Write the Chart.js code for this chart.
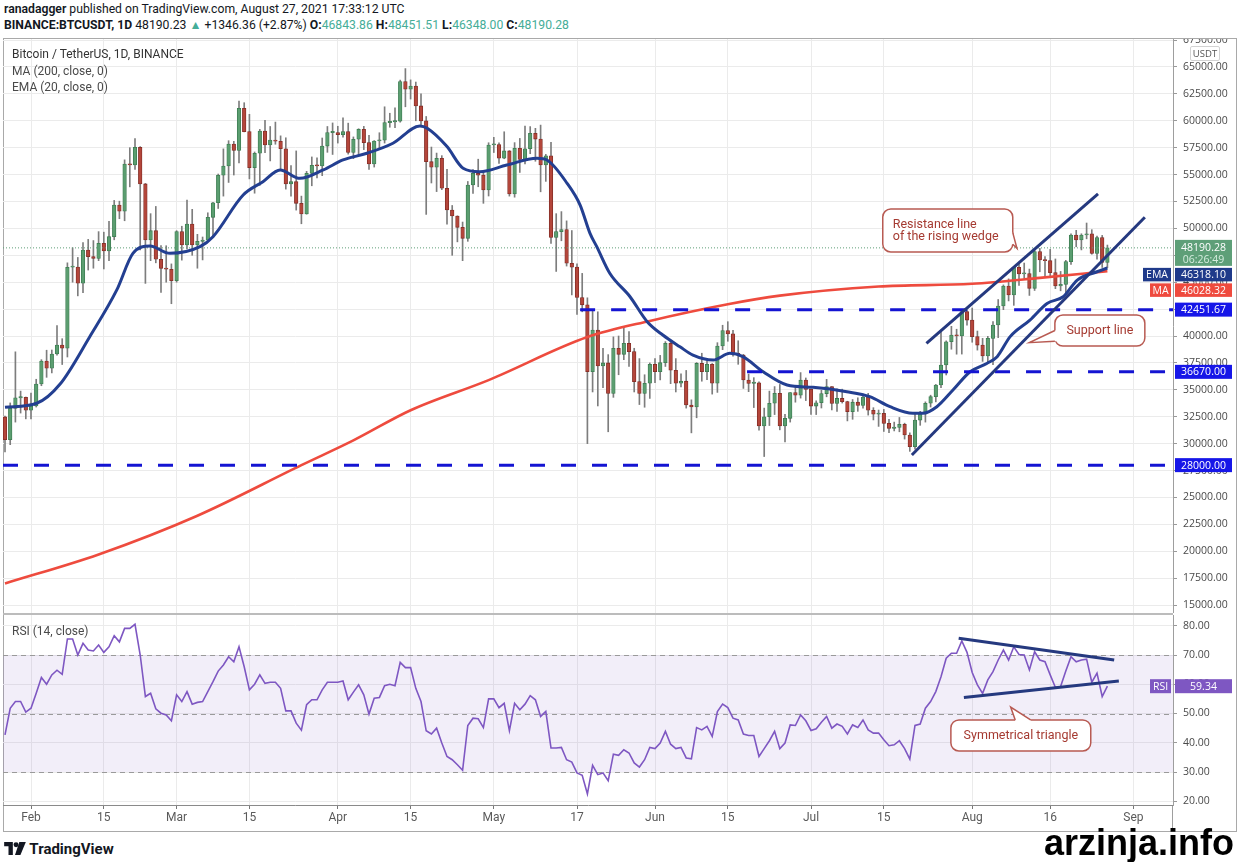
<!DOCTYPE html>
<html>
<head>
<meta charset="utf-8">
<title>BTCUSDT 1D</title>
<script src="https://cdn.jsdelivr.net/npm/chart.js@4.4.1/dist/chart.umd.min.js"></script>
<style>
  html, body { margin: 0; padding: 0; background: #fff; }
  body { position: relative; width: 1238px; height: 862px; overflow: hidden; font-family: Roboto, "Open Sans", sans-serif; color: #131722; }
  .abs { position: absolute; white-space: nowrap; }
  #frame { left: 3px; top: 38px; width: 1234px; height: 794px; border: 1px solid #a9a9a9; box-sizing: border-box; }
  #axisTail { left: 1172px; top: 805px; width: 1px; height: 26px; background: #9e9e9e; }
  #mainCanvas { position: absolute; left: 0; top: 39px; }
  #rsiCanvas { position: absolute; left: 0; top: 613px; }
  #sep { left: 3px; top: 613px; width: 1170px; height: 2px; background: #bcbcbc; }
  .hdr { left: 4px; font-size: 12.2px; line-height: 14px; }
  .up { color: #45ad98; }
  .legend { left: 12px; font-size: 12px; line-height: 14px; color: #4a4a4a; }
  #usdt { left: 1190px; top: 46px; width: 28px; height: 13px; border: 1px solid #d2d2d2; border-radius: 2px; font-size: 9.5px; line-height: 13px; text-align: center; color: #555; font-family: "Open Sans", sans-serif; }
  #tvlogo { left: 4px; top: 841px; font-size: 15px; font-weight: 700; line-height: 16px; color: #131722; }
  #mark { left: 1044px; top: 825px; font-family: "Liberation Sans", Arial, sans-serif; font-weight: 700; font-size: 36px; line-height: 36px; color: #000; }
</style>
</head>
<body>
<div id="frame" class="abs"></div>
<div id="axisTail" class="abs"></div>
<canvas id="mainCanvas" width="1238" height="574"></canvas>
<canvas id="rsiCanvas" width="1238" height="217"></canvas>
<div id="sep" class="abs"></div>

<div class="abs hdr" style="top:2px"><b style="font-weight:600">ranadagger</b> published on TradingView.com, August 27, 2021 17:33:12 UTC</div>
<div class="abs hdr" style="top:18px"><b>BINANCE:BTCUSDT, 1D</b> 48190.23 <span class="up">▲</span> +1346.36 (+2.87%) <b>O:</b><span class="up">46843.86</span> <b>H:</b><span class="up">48451.51</span> <b>L:</b><span class="up">46348.00</span> <b>C:</b><span class="up">48190.28</span></div>

<div class="abs legend" style="top:47px;color:#333">Bitcoin / TetherUS, 1D, BINANCE</div>
<div class="abs legend" style="top:64px">MA (200, close, 0)</div>
<div class="abs legend" style="top:80px">EMA (20, close, 0)</div>
<div class="abs legend" style="top:624px">RSI (14, close)</div>
<div id="usdt" class="abs">USDT</div>

<div id="tvlogo" class="abs"><svg width="22" height="13" viewBox="0 0 20 12" style="vertical-align:-1px"><path d="M0 0h8v12H4V4H0z" fill="#131722"/><circle cx="11" cy="2.5" r="2.3" fill="#131722"/><path d="M14 0h6l-5 12h-5z" fill="#131722"/></svg> TradingView</div>
<div id="mark" class="abs">arzinja.info</div>

<script>
// daily candles BINANCE:BTCUSDT, first bar = 27 Jan 2021, last = 27 Aug 2021
const opens = [
  32480,30370,33280,34250,34300,33100,33500,35540,37680,37000,
  38330,39160,38870,46390,46400,44900,47990,47370,47200,48620,
  47900,49230,52170,51600,55980,55900,57540,54130,48920,49790,
  47130,46290,46200,45140,49700,48460,50410,48460,48800,48900,
  51030,52380,54940,55800,57840,57250,61160,58990,55640,56980,
  59050,57750,58200,58100,57400,54130,54340,52330,51340,55120,
  55860,55800,57650,58900,58900,58700,59000,57050,58280,59210,
  57970,55980,58120,58200,59830,59900,59960,63640,62930,63220,
  61380,59990,56200,55680,56520,53730,51710,51150,50100,49080,
  54030,55120,54950,53570,57750,57800,56520,57200,53200,57440,
  56400,57400,58840,58300,55890,56750,49150,49700,49900,46760,
  46400,43580,42900,36680,40560,37210,37500,34670,38850,38300,
  39320,38550,35760,34670,35610,37370,36680,37520,39320,36820,
  35610,35800,33590,33400,37450,36680,37370,35610,39070,40500,
  40200,38390,38230,35910,35600,35650,31640,32500,33750,34670,
  31640,32350,34740,34500,35910,35040,33490,33800,34650,35290,
  33730,34200,33900,32970,33850,33550,34330,33100,32730,32820,
  31880,31420,31500,31800,30800,29710,32190,32750,33750,34360,
  35450,37310,39470,40090,40000,42260,41480,39940,39160,38140,
  39780,41020,42790,44650,43810,46390,45760,45800,44430,47840,
  47060,47000,45890,44650,44800,46910,49390,48920,49390,49500,
  47680,49150,46843.86
];
const highs = [
  32560,33780,38530,34880,34330,34700,35980,37800,38680,38700,
  40980,39750,46800,48200,47300,48680,48980,48870,49700,49650,
  50650,52600,52530,56370,57500,58350,57600,54180,51370,52040,
  48400,48390,46700,49790,50200,52640,51770,49450,49200,51450,
  52420,55050,57390,58150,58090,61840,61680,60600,57100,59200,
  60040,59470,59880,58600,58420,55830,57200,53000,55300,56640,
  56560,58400,59470,59800,59490,60270,59780,58500,59260,59480,
  58650,58160,58890,61300,60700,61200,63780,64850,63800,63600,
  62500,60400,57560,57000,56760,55500,52130,51170,50590,54360,
  55460,56430,55200,57960,58460,57950,58980,57230,57970,58360,
  59500,59460,59300,59600,56880,58000,51370,51560,50700,49800,
  46700,45820,43550,42460,42250,38850,38270,39920,40000,40840,
  40400,38860,37900,36400,37500,37900,38200,39480,39480,37900,
  36480,36800,34070,37530,38400,37690,37440,39380,41000,41330,
  40530,39560,38300,36460,36130,35750,33300,34880,35300,35500,
  32730,34750,35300,36600,36100,35040,33980,34950,35970,35300,
  35100,35060,33940,34100,34260,34600,34670,33340,33120,33180,
  32250,32000,32430,31900,31000,32860,33000,33880,34500,35500,
  40500,39550,40900,40630,42320,42400,42600,40460,39780,39970,
  41350,43390,44750,45310,46460,46700,46780,46220,48150,48140,
  47390,48050,47160,46000,47030,49500,49820,49500,50500,49880,
  49290,49350,48451.51
];
const lows = [
  29240,29900,32000,32840,32300,32300,33400,35380,36160,36570,
  38220,37350,38050,45000,43730,44020,46130,46300,47000,46230,
  47000,48940,50900,50710,53860,55480,48000,44890,47000,46800,
  44060,45000,43000,45000,47050,48100,47500,46300,47070,48870,
  49270,51850,53000,54270,54960,56080,58970,54600,53270,54000,
  57030,56270,57820,55450,53650,53000,51700,50430,51320,53960,
  54700,54900,57070,56870,57930,58470,56900,56480,56800,57320,
  55470,55700,57370,57930,59400,59370,59870,61300,62020,60000,
  59580,51300,54220,53420,53600,50400,47500,48750,47000,48800,
  53250,53870,52330,53010,57050,56040,56470,53000,52900,55200,
  56000,56940,56240,53400,54370,48600,46000,48850,46500,43820,
  42000,42250,30000,34800,33500,35200,31100,34300,36400,37800,
  37170,34800,33630,33380,34200,35670,35920,37170,35570,34800,
  35260,33300,31000,32400,35800,35950,34600,34760,38730,39510,
  38120,37370,35130,34830,33350,31250,28800,31680,32700,31280,
  30150,32000,33850,34230,34000,32710,32700,33310,34350,33130,
  33000,33770,32110,32260,33000,33300,32650,32200,31600,31130,
  31020,31180,31100,30420,29280,29480,31700,32000,33400,33880,
  35200,36380,38770,38310,38320,41000,39420,38690,37640,37510,
  37330,39850,42450,43260,42850,44690,45350,43770,44230,45970,
  45520,45600,44400,44200,43930,46650,48290,48000,49030,47600,
  47150,46370,46348
];
const closes = [
  30370,33280,34250,34300,33100,33500,35540,37680,37000,38330,
  39160,38870,46390,46400,44900,47990,47370,47200,48620,47900,
  49230,52170,51600,55980,55900,57540,54130,48920,49790,47130,
  46290,46200,45140,49700,48460,50410,48460,48800,48900,51030,
  52380,54940,55800,57840,57250,61160,58990,55640,56980,59050,
  57750,58200,58100,57400,54130,54340,52330,51340,55120,55860,
  55800,57650,58900,58900,58700,59000,57050,58280,59210,57970,
  55980,58120,58200,59830,59900,59960,63640,62930,63220,61380,
  59990,56200,55680,56520,53730,51710,51150,50100,49080,54030,
  55120,54950,53570,57750,57800,56520,57200,53200,57440,56400,
  57400,58840,58300,55890,56750,49150,49700,49900,46760,46400,
  43580,42900,36680,40560,37210,37500,34670,38850,38300,39320,
  38550,35760,34670,35610,37370,36680,37520,39320,36820,35610,
  35800,33590,33400,37450,36680,37370,35610,39070,40500,40200,
  38390,38230,35910,35600,35650,31640,32500,33750,34670,31640,
  32350,34740,34500,35910,35040,33490,33800,34650,35290,33730,
  34200,33900,32970,33850,33550,34330,33100,32730,32820,31880,
  31420,31500,31800,30800,29710,32190,32750,33750,34360,35450,
  37310,39470,40090,40000,42260,41480,39940,39160,38140,39780,
  41020,42790,44650,43810,46390,45760,45800,44430,47840,47060,
  47000,45890,44650,44800,46910,49390,48920,49390,49500,47680,
  49150,46840,48190.28
];

// RSI (14) per day
const rsiValues = [
  42.7,51.8,54.1,54.1,50.5,51.8,56.9,62.3,60.0,63.2,
  64.8,63.4,75.5,75.5,70.0,74.0,71.7,71.4,73.4,70.9,
  72.8,76.6,74.5,79.1,79.1,80.5,70.0,55.8,56.9,51.6,
  50.1,49.5,47.5,56.4,54.1,57.5,53.2,53.8,54.1,57.5,
  60.9,64.5,66.6,69.4,67.7,72.8,66.0,58.1,60.0,63.2,
  60.3,60.7,60.7,58.6,50.9,50.9,46.7,44.3,53.0,54.7,
  54.7,58.1,60.7,60.7,60.7,61.1,54.7,57.3,59.8,56.4,
  49.8,55.2,55.5,59.5,60.0,59.5,67.5,65.7,65.7,58.6,
  54.1,44.1,43.0,45.0,39.9,35.3,34.2,32.5,30.6,45.9,
  48.4,48.2,45.2,55.0,55.0,52.0,53.5,44.1,53.5,51.3,
  53.2,56.1,54.7,49.0,50.7,38.2,38.2,38.4,34.2,33.4,
  29.7,28.9,22.5,32.3,29.1,29.7,27.0,36.1,35.7,37.6,
  36.5,33.1,31.7,34.2,38.4,38.0,39.9,43.9,39.5,38.0,
  38.4,34.8,34.5,45.2,44.4,45.6,42.2,50.7,53.2,52.0,
  48.4,47.8,43.0,42.5,42.5,35.3,38.0,40.7,43.9,38.0,
  39.9,46.1,45.9,49.5,47.5,44.2,44.8,47.0,49.0,45.0,
  46.4,45.6,43.0,46.1,45.2,47.8,44.4,43.3,43.3,41.0,
  39.0,39.3,40.7,38.0,34.4,45.9,46.4,51.8,54.1,57.5,
  62.6,68.9,70.6,70.6,74.8,70.9,64.0,59.8,56.9,61.5,
  64.3,68.3,71.7,68.3,72.8,70.2,70.0,64.9,71.1,68.3,
  67.7,63.2,58.9,59.2,64.5,69.4,67.7,68.3,68.6,60.7,
  63.8,55.8,59.34
];

// EMA 20 and MA 200 (day index, price)
const emaDays = [0,6.1,10.6,16.3,21.5,24.6,27.9,31.7,37.5,40,45.8,49.6,52.9,56.7,61.2,65,69.6,74.6,79.8,81.2,85,88.1,91.3,96.5,102.3,104.2,108.1,110.6,112.5,113.8,116.3,120.2,123.5,126.5,129.8,132.3,136.2,139.4,141.9,145.8,150.4,155.4,161.9,166.3,170.2,174.6,176.5,179.2,182.3,185.6,188.8,190.8,193.3,197.1,200.4,203.5,206.2,210,212];
const emaValues = [33370,33750,35540,39940,44280,47680,48360,47680,48300,49230,53100,54340,55430,54650,55430,56360,56980,57910,59520,59300,57600,55590,55270,55890,56520,56360,54190,52170,49540,48300,45830,43650,41330,40090,39000,38230,37770,38390,38080,36680,35450,35230,34820,34360,33430,32820,32820,33430,34980,36680,37450,38080,39940,41480,43030,43650,45200,45970,46318.10];
const maDays = [0,18,37,57,67,78,93,112,124,139,149,168,186,199,212];
const maValues = [17000,19700,23300,28000,30300,33100,35900,39900,41400,42950,43750,44600,44850,45400,46028.32];

// horizontal levels and drawn trend lines
const levels = [28000, 36670, 42451.67];
const levelStarts = [-0.385, 142.7, 110.6];
const wedgeDays = [177.2, 210.2];
const wedgePrices = [39320, 53200];
const supportDays = [174.4, 219.2];
const supportPrices = [28940, 51030];
const triTopDays = [183.4, 213.3];
const triTopValues = [75.7, 68.3];
const triLowDays = [184.4, 214.2];
const triLowValues = [55.5, 61.1];

// axes
const tickDays = [5,19,33,47,64,78,94,110,125,139,155,169,186,201,217];
const tickLabels = ['Feb','15','Mar','15','Apr','15','May','17','Jun','15','Jul','15','Aug','16','Sep'];
const priceTicks = [15000,17500,20000,22500,25000,27500,30000,32500,35000,37500,40000,42500,45000,47500,50000,52500,55000,57500,60000,62500,65000,67500];
const rsiTicks = [20,30,40,50,60,70,80];

const lastClose = 48190.28;
const lastEma = 46318.10;
const lastMa = 46028.32;
const lastRsi = 59.34;

Chart.defaults.font.family = 'Roboto, "Open Sans", sans-serif';
Chart.defaults.animation = false;

const xMin = -0.385, xMax = 224.615;
const days = closes.map((c, i) => i);
const rising = i => closes[i] >= opens[i];

function pts(xs, ys) {
    return xs.map((v, k) => ({ x: v, y: ys[k] }));
}

function tag(ctx, x, y, w, h, bg, text, fg) {
    ctx.fillStyle = bg;
    ctx.fillRect(x, y, w, h);
    ctx.fillStyle = fg || '#fff';
    ctx.textAlign = 'center';
    ctx.textBaseline = 'middle';
    ctx.fillText(text, x + w / 2, y + h / 2 + 0.5);
}

function drawCallout(chart, c) {
    const { ctx, scales: { x, y } } = chart;
    const L = x.getPixelForValue(c.x0), R = x.getPixelForValue(c.x1);
    const T = y.getPixelForValue(c.y0), B = y.getPixelForValue(c.y1);
    const tip = [x.getPixelForValue(c.tail.tip[0]), y.getPixelForValue(c.tail.tip[1])];
    let p1, p2, inX = 0, inY = 0;
    if (c.tail.side === 'left') {
        p1 = [L, T + (B - T) * c.tail.a]; p2 = [L, T + (B - T) * c.tail.b]; inX = 2;
    } else if (c.tail.side === 'right') {
        p1 = [R, T + (B - T) * c.tail.a]; p2 = [R, T + (B - T) * c.tail.b]; inX = -2;
    } else {
        p1 = [L + (R - L) * c.tail.a, T]; p2 = [L + (R - L) * c.tail.b, T]; inY = 2;
    }
    ctx.save();
    ctx.lineWidth = 1.5;
    ctx.strokeStyle = '#b85a52';
    ctx.fillStyle = '#fff';
    ctx.beginPath();
    ctx.roundRect(L, T, R - L, B - T, 8);
    ctx.fill();
    ctx.stroke();
    ctx.beginPath();
    ctx.moveTo(p1[0] + inX, p1[1] + inY);
    ctx.lineTo(p1[0], p1[1]);
    ctx.lineTo(tip[0], tip[1]);
    ctx.lineTo(p2[0], p2[1]);
    ctx.lineTo(p2[0] + inX, p2[1] + inY);
    ctx.closePath();
    ctx.fill();
    ctx.beginPath();
    ctx.moveTo(p1[0], p1[1]);
    ctx.lineTo(tip[0], tip[1]);
    ctx.lineTo(p2[0], p2[1]);
    ctx.stroke();
    ctx.fillStyle = '#a53a31';
    ctx.font = '12.5px Roboto';
    ctx.textBaseline = 'middle';
    ctx.textAlign = c.align;
    const tx = c.align === 'left' ? L + 10 : (L + R) / 2;
    const mid = (T + B) / 2;
    c.lines.forEach((line, k) => {
        ctx.fillText(line, tx, mid + (k - (c.lines.length - 1) / 2) * 12);
    });
    ctx.restore();
}

const mainNotes = [
    { lines: ['Resistance line', 'of the rising wedge'], x0: 168.8, x1: 193.8, y0: 51800, y1: 47810, align: 'left',
      tail: { side: 'right', a: 0.55, b: 0.82, tip: [194.6, 48150] } },
    { lines: ['Support line'], x0: 201.9, x1: 219.2, y0: 41950, y1: 39070, align: 'center',
      tail: { side: 'left', a: 0.5, b: 0.85, tip: [197.0, 39380] } }
];
const rsiNote = { lines: ['Symmetrical triangle'], x0: 181.9, x1: 208.8, y0: 47.8, y1: 37.2, align: 'center',
    tail: { side: 'top', a: 0.46, b: 0.57, tip: [193.4, 52.2] } };

const mainOverlay = {
    id: 'mainOverlay',
    afterDraw(chart) {
        const { ctx, chartArea: a, scales: { y } } = chart;
        mainNotes.forEach(n => drawCallout(chart, n));
        ctx.save();
        ctx.font = '10.5px "Open Sans"';
        const left = a.right + 2, w = 57;
        let yc = y.getPixelForValue(lastClose);
        ctx.fillStyle = '#5e9f78';
        ctx.fillRect(left, yc - 8, w, 26);
        ctx.fillStyle = '#fff';
        ctx.textAlign = 'center';
        ctx.textBaseline = 'middle';
        ctx.fillText(lastClose.toFixed(2), left + w / 2, yc + 0.5);
        ctx.fillStyle = '#d6eddf';
        ctx.fillText('06:26:49', left + w / 2, yc + 12);
        let top = yc + 20;
        tag(ctx, left, top, w, 13.5, '#1f3a8a', lastEma.toFixed(2));
        tag(ctx, a.right - 30, top, 28, 13.5, '#1f3a8a', 'EMA');
        top += 15.5;
        tag(ctx, left, top, w, 13.5, '#ef4a3e', lastMa.toFixed(2));
        tag(ctx, a.right - 23, top, 21, 13.5, '#ef4a3e', 'MA');
        levels.forEach(v => {
            const yy = y.getPixelForValue(v);
            tag(ctx, left, yy - 7, w, 14, '#1616e8', v.toFixed(2));
        });
        ctx.restore();
    }
};

const rsiOverlay = {
    id: 'rsiOverlay',
    beforeDatasetsDraw(chart) {
        const { ctx, chartArea: a, scales: { y } } = chart;
        const top = y.getPixelForValue(70), bot = y.getPixelForValue(30);
        ctx.save();
        ctx.fillStyle = 'rgba(126, 87, 194, 0.1)';
        ctx.fillRect(a.left, top, a.right - a.left, bot - top);
        ctx.setLineDash([5, 4]);
        ctx.strokeStyle = '#9a9a9a';
        ctx.lineWidth = 1;
        [70, 50, 30].forEach(v => {
            const yy = Math.round(y.getPixelForValue(v)) + 0.5;
            ctx.beginPath();
            ctx.moveTo(a.left, yy);
            ctx.lineTo(a.right, yy);
            ctx.stroke();
        });
        ctx.restore();
    },
    afterDraw(chart) {
        const { ctx, chartArea: a, scales: { y } } = chart;
        drawCallout(chart, rsiNote);
        ctx.save();
        ctx.font = '10.5px "Open Sans"';
        const yy = y.getPixelForValue(lastRsi);
        tag(ctx, a.right + 2, yy - 7, 57, 14, '#7e57c2', lastRsi.toFixed(2));
        tag(ctx, a.right - 23, yy - 7, 21, 14, '#7e57c2', 'RSI');
        ctx.restore();
    }
};

const yTickFont = { family: '"Open Sans"', size: 10.5 };

const mainChart = new Chart(document.getElementById('mainCanvas'), {
    type: 'bar',
    data: {
        datasets: [
            { type: 'bar', data: days.map(i => ({ x: i, y: [lows[i], highs[i]] })), backgroundColor: '#7d7d7d',
              barThickness: 1, grouped: false, order: 10 },
            { type: 'bar', data: days.map(i => ({ x: i, y: [opens[i], closes[i]] })),
              backgroundColor: c => rising(c.dataIndex) ? '#5b9e70' : '#b4463b',
              borderColor: c => rising(c.dataIndex) ? '#3a7a4f' : '#7f2b24',
              borderWidth: 0.8, borderSkipped: false, barThickness: 3.6, minBarLength: 1.2, grouped: false, order: 9 },
            { type: 'line', data: [{ x: xMin, y: lastClose }, { x: xMax, y: lastClose }], borderColor: '#5e9f78',
              borderWidth: 1, borderDash: [1, 2], pointRadius: 0, order: 8 },
            { type: 'line', data: pts(maDays, maValues), borderColor: '#ee4b3e', borderWidth: 2.6, pointRadius: 0,
              cubicInterpolationMode: 'monotone', order: 5 },
            { type: 'line', data: pts(emaDays, emaValues), borderColor: '#233f91', borderWidth: 3, pointRadius: 0,
              cubicInterpolationMode: 'monotone', order: 4 },
            ...levels.map((v, k) => ({
                type: 'line', data: [{ x: levelStarts[k], y: v }, { x: xMax, y: v }], borderColor: '#1414d2',
                borderWidth: 3, borderDash: [15, 16], pointRadius: 0, order: 3
            })),
            { type: 'line', data: pts(wedgeDays, wedgePrices), borderColor: '#25397f', borderWidth: 3, pointRadius: 0, order: 2 },
            { type: 'line', data: pts(supportDays, supportPrices), borderColor: '#25397f', borderWidth: 3, pointRadius: 0, order: 2 }
        ]
    },
    options: {
        responsive: false,
        events: [],
        layout: { padding: { left: 3, top: 0, right: 0, bottom: 0 } },
        plugins: { legend: { display: false }, tooltip: { enabled: false } },
        scales: {
            x: {
                type: 'linear', min: xMin, max: xMax, offset: false,
                afterBuildTicks: s => { s.ticks = tickDays.map(v => ({ value: v })); },
                afterFit: s => { s.height = 0; s.paddingLeft = 0; s.paddingRight = 0; },
                grid: { color: '#ebebeb', drawTicks: false, offset: false },
                border: { display: false },
                ticks: { display: false }
            },
            y: {
                position: 'right', min: 14260, max: 67600,
                afterBuildTicks: s => { s.ticks = priceTicks.map(v => ({ value: v })); },
                afterFit: s => { s.width = 65; s.paddingTop = 0; s.paddingBottom = 0; },
                grid: { color: '#ebebeb', tickLength: 4, tickColor: '#9a9a9a' },
                border: { display: true, color: '#9e9e9e' },
                ticks: { padding: 6, color: '#4a4a4a', font: yTickFont, callback: v => v.toFixed(2) }
            }
        }
    },
    plugins: [mainOverlay]
});

const rsiChart = new Chart(document.getElementById('rsiCanvas'), {
    type: 'line',
    data: {
        datasets: [
            { data: pts(days, rsiValues), borderColor: '#7e57c2', borderWidth: 1.6, pointRadius: 0, order: 3 },
            { data: pts(triTopDays, triTopValues), borderColor: '#25397f', borderWidth: 3, pointRadius: 0, order: 1 },
            { data: pts(triLowDays, triLowValues), borderColor: '#25397f', borderWidth: 3, pointRadius: 0, order: 1 }
        ]
    },
    options: {
        responsive: false,
        events: [],
        layout: { padding: { left: 3, top: 2, right: 0, bottom: 0 } },
        plugins: { legend: { display: false }, tooltip: { enabled: false } },
        scales: {
            x: {
                type: 'linear', min: xMin, max: xMax, offset: false,
                afterBuildTicks: s => { s.ticks = tickDays.map(v => ({ value: v })); },
                afterFit: s => { s.height = 25; s.paddingLeft = 0; s.paddingRight = 0; },
                grid: { color: '#ebebeb', tickLength: 4, tickColor: '#777' },
                border: { display: true, color: '#8a8a8a' },
                ticks: {
                    autoSkip: false, maxRotation: 0, padding: 2, color: '#5a5a5a', font: { size: 12 },
                    callback: v => { const k = tickDays.indexOf(v); return k >= 0 ? tickLabels[k] : ''; }
                }
            },
            y: {
                position: 'right', min: 18.72, max: 83.68,
                afterBuildTicks: s => { s.ticks = rsiTicks.map(v => ({ value: v })); },
                afterFit: s => { s.width = 65; s.paddingTop = 0; s.paddingBottom = 0; },
                grid: { color: '#ebebeb', tickLength: 4, tickColor: '#9a9a9a' },
                border: { display: true, color: '#9e9e9e' },
                ticks: { padding: 6, color: '#4a4a4a', font: yTickFont, callback: v => v.toFixed(2) }
            }
        }
    },
    plugins: [rsiOverlay]
});
</script>
</body>
</html>
